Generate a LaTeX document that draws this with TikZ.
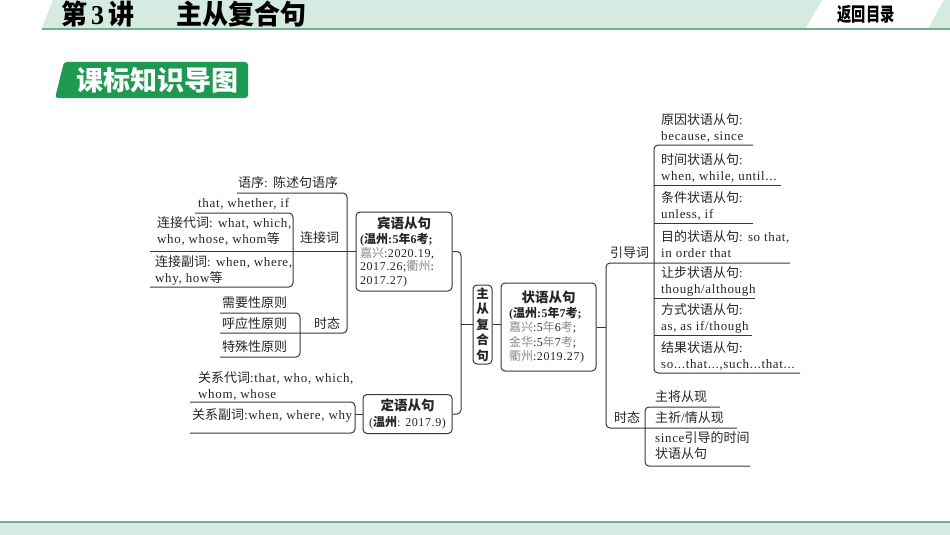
\documentclass[tikz,border=0pt]{standalone}
\usepackage{fontspec}
\setmainfont{Liberation Serif}[LetterSpace=5]
\newfontfamily\cjk{Noto Sans CJK SC}
\newcommand{\C}[1]{{\cjk #1}}
\newcommand{\G}[1]{{\cjk\color{gy}#1}}
\definecolor{lc}{HTML}{383838}
\definecolor{tc}{HTML}{262626}
\definecolor{gy}{HTML}{8A8A8A}
\definecolor{hb}{HTML}{D5EAE0}
\definecolor{hl}{HTML}{6FB28E}
\definecolor{tg}{HTML}{1E9A50}
\begin{document}
\begin{tikzpicture}[x=1pt,y=-1pt,
  ln/.style={draw=lc, line width=1pt, rounded corners=4pt},
  t/.style={anchor=west, inner sep=0pt, text=tc, align=left, font=\fontsize{13}{16}\selectfont},
  bx/.style={draw=lc, line width=1pt, rounded corners=4pt, inner sep=3pt, text=tc}]
\useasboundingbox (0,0) rectangle (950,535);
\fill[white] (0,0) rectangle (950,535);
% header
\fill[hb] (42,28) -- (53,0) -- (950,0) -- (950,28) -- cycle;
\fill[white] (806,28) -- (822,0) -- (944,0) -- (928,28) -- cycle;
\draw[hl, line width=2.2pt] (42,29) -- (950,29);
\node[anchor=west, inner sep=0pt, font=\fontsize{26}{26}\selectfont\bfseries\cjk, yscale=1.05, transform shape] (ttl) at (61,14) {第\hspace{4pt}{\rmfamily 3}\hspace{4pt}讲\hspace{42pt}主从复合句};
\node[inner sep=0pt, font=\fontsize{19}{19}\selectfont\bfseries\cjk, xscale=0.75, transform shape] (back) at (866,14) {返回目录};
% tag
\fill[tg, rounded corners=3pt] (55,98) -- (64,62) -- (248,62) -- (248,98) -- cycle;
\node[inner sep=0pt, font=\fontsize{27}{27}\selectfont\bfseries\cjk, text=white] (tag) at (157,80) {课标知识导图};
% bottom band
\fill[hb] (0,523) rectangle (950,535);
\draw[hl, line width=2pt] (0,522) -- (950,522);

% boxes
\node[bx, minimum width=96pt, minimum height=79pt, text width=88pt, inner xsep=4pt, align=left, font=\fontsize{12}{13.5}\selectfont] (bin) at (404,251.5)
 {\makebox[88pt][c]{\C{\bfseries\fontsize{13.5}{15}\selectfont 宾语从句}}\\[2pt]
  \textbf{(\C{\bfseries 温州}:5\C{\bfseries 年}6\C{\bfseries 考};}\\
  \G{嘉兴}:2020.19,\\
  2017.26;\G{衢州}:\\
  2017.27)};
\node[bx, minimum width=89pt, minimum height=39pt, align=center, font=\fontsize{12}{16}\selectfont] (ding) at (407.5,414)
 {\C{\bfseries\fontsize{13.5}{15}\selectfont 定语从句}\\ (\C{\bfseries 温州}: 2017.9)};
\node[bx, minimum width=19pt, minimum height=79pt, inner sep=1pt, align=center, font=\cjk\bfseries\fontsize{12.5}{15.5}\selectfont] (zhu) at (482.5,324.5) {主\\从\\复\\合\\句};
\node[bx, minimum width=95pt, minimum height=88pt, text width=79pt, inner xsep=8pt, align=left, font=\fontsize{12}{14.5}\selectfont] (zhuang) at (548.5,327)
 {\makebox[79pt][c]{\C{\bfseries\fontsize{13.5}{15}\selectfont 状语从句}}\\
  \textbf{(\C{\bfseries 温州}:5\C{\bfseries 年}7\C{\bfseries 考};}\\
  \G{嘉兴}:5\G{年}6\G{考};\\
  \G{金华}:5\G{年}7\G{考};\\
  \G{衢州}:2019.27)};

% connectors left
\draw[ln] (237,193) -- (347,193) -- (347,333) -- (220,333);
\draw[ln] (150,251.5) -- (bin.west);
\draw[ln] (195,213) -- (293,213) -- (293,287) -- (150,287);
\draw[ln] (220,313) -- (300,313) -- (300,357) -- (220,357);
\draw[ln] (190,402) -- (355,402) -- (355,433) -- (190,433);
\draw[ln] (355,414) -- (ding.west);
\draw[ln] (bin.east) -- (461,251.5) -- (461,414) -- (ding.east);
\draw[ln] (461,324.5) -- (zhu.west);
\draw[ln] (zhu.east) -- (zhuang.west |- zhu.east);
% connectors right
\draw[ln] (zhuang.east) -- (606,327);
\draw[ln] (790,263) -- (606,263) -- (606,428) -- (737,428);
\draw[ln] (753,145) -- (654,145) -- (654,373) -- (800,373);
\draw[ln] (654,185) -- (781,185);
\draw[ln] (654,223) -- (753,223);
\draw[ln] (654,298) -- (755,298);
\draw[ln] (654,335) -- (752,335);
\draw[ln] (720,407) -- (645,407) -- (645,466) -- (750,466);

% left texts
\node[t] (yx) at (238,183) {\C{语序}: \C{陈述句语序}};
\node[t] (twi) at (198,204) {that, whether, if};
\node[t] (ljd) at (157,231.5) {\C{连接代词}: what, which,\\ who, whose, whom\C{等}};
\node[t] (ljc) at (300,238) {\C{连接词}};
\node[t] (ljf) at (155,270) {\C{连接副词}: when, where,\\ why, how\C{等}};
\node[t] (xy) at (222,303) {\C{需要性原则}};
\node[t] (hy) at (222,324) {\C{呼应性原则}};
\node[t] (tsl) at (314,323) {\C{时态}};
\node[t] (ts) at (222,347) {\C{特殊性原则}};
\node[t] (gxd) at (198,386) {\C{关系代词}:that, who, which,\\ whom, whose};
\node[t] (gxf) at (192,415) {\C{关系副词}:when, where, why};

% right texts
\node[t] (yyd) at (610,253) {\C{引导词}};
\node[t] (tsr) at (614,417) {\C{时态}};
\node[t] (r1) at (661,128) {\C{原因状语从句}:\\ because, since};
\node[t] (r2) at (661,168) {\C{时间状语从句}:\\ when, while, until...};
\node[t] (r3) at (661,206) {\C{条件状语从句}:\\ unless, if};
\node[t] (r4) at (661,244.5) {\C{目的状语从句}: so that,\\ in order that};
\node[t] (r5) at (661,281.5) {\C{让步状语从句}:\\ though/although};
\node[t] (r6) at (661,318.5) {\C{方式状语从句}:\\ as, as if/though};
\node[t] (r7) at (661,356) {\C{结果状语从句}:\\ so...that...,such...that...};
\node[t] (s1) at (655,397) {\C{主将从现}};
\node[t] (s2) at (655,418) {\C{主祈}/\C{情从现}};
\node[t] (s3) at (655,446) {since\C{引导的时间}\\ \C{状语从句}};
\end{tikzpicture}
\end{document}
